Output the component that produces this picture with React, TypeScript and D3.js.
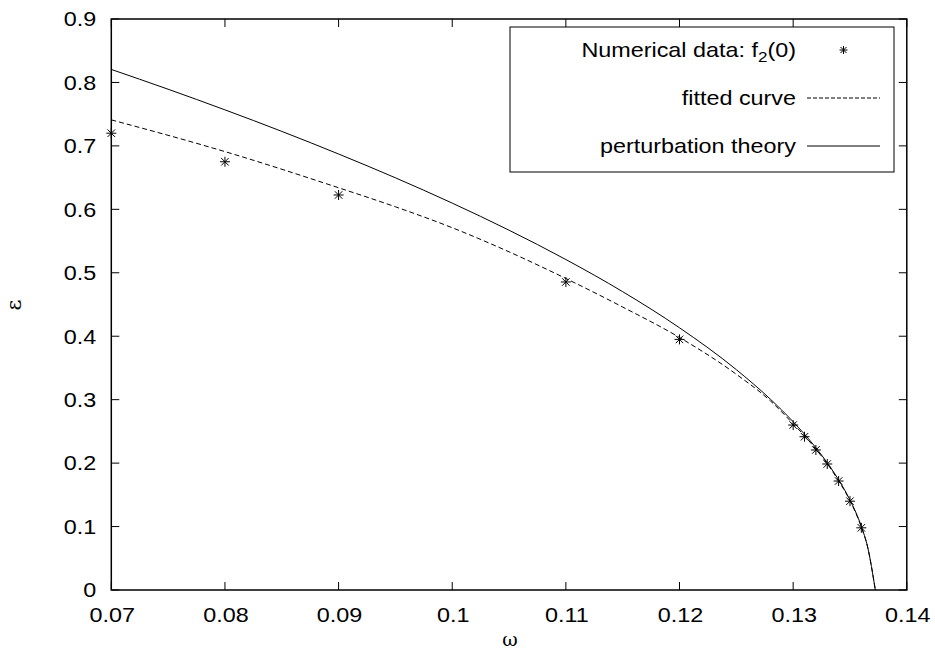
import React from "react";
import * as d3 from "d3";

const W = 935;
const H = 659;

const xTicks = [0.07, 0.08, 0.09, 0.1, 0.11, 0.12, 0.13, 0.14];
const yTicks = [0, 0.1, 0.2, 0.3, 0.4, 0.5, 0.6, 0.7, 0.8, 0.9];

const dataOmega = [0.07, 0.08, 0.09, 0.11, 0.12, 0.13, 0.131, 0.132, 0.133, 0.134, 0.135, 0.136];
const dataEps = [0.72, 0.675, 0.6226, 0.4855, 0.395, 0.26, 0.2416, 0.2207, 0.1986, 0.1718, 0.14, 0.098];

const fitOmega = [0.07, 0.08, 0.09, 0.095, 0.1, 0.105, 0.11, 0.115, 0.12, 0.125, 0.128, 0.13, 0.131, 0.132, 0.133, 0.134, 0.135, 0.136, 0.13655, 0.13723];
const fitEps = [0.741, 0.691, 0.634, 0.604, 0.571, 0.533, 0.491, 0.446, 0.398, 0.34, 0.298, 0.262, 0.243, 0.222, 0.199, 0.172, 0.141, 0.099, 0.068, 0];

const ptOmega = [0.07, 0.075, 0.08, 0.085, 0.09, 0.095, 0.1, 0.105, 0.11, 0.115, 0.12, 0.125, 0.128, 0.13, 0.131, 0.132, 0.133, 0.134, 0.135, 0.136, 0.13655, 0.13723];
const ptEps = [0.8205, 0.7893, 0.7568, 0.7229, 0.6872, 0.6497, 0.6098, 0.5671, 0.5209, 0.4702, 0.4133, 0.3473, 0.3007, 0.2652, 0.2456, 0.2242, 0.2005, 0.1736, 0.1418, 0.1002, 0.068, 0];

const legendLabels = ["Numerical data: f", "fitted curve", "perturbation theory"];

const FONT = "'Liberation Sans', Arial, Helvetica, sans-serif";
const SX = 1.14;

function T(props: { x: number; y: number; anchor: string; children: React.ReactNode; dy?: string }) {
  return (
    <text
      transform={`translate(${props.x},${props.y}) scale(${SX},1)`}
      x={0}
      y={0}
      dy={props.dy}
      textAnchor={props.anchor}
    >
      {props.children}
    </text>
  );
}

export default function App() {
  const left = 111.3;
  const right = 906.8;
  const top = 19;
  const bottom = 590;
  const x = d3.scaleLinear().domain([0.07, 0.14]).range([left, right]);
  const y = d3.scaleLinear().domain([0, 0.9]).range([bottom, top]);

  const line = d3
    .line<[number, number]>()
    .x((d) => x(d[0]))
    .y((d) => y(d[1]))
    .curve(d3.curveMonotoneX);

  const fitPath = line(fitOmega.map((w, i) => [w, fitEps[i]] as [number, number])) || "";
  const ptPath = line(ptOmega.map((w, i) => [w, ptEps[i]] as [number, number])) || "";

  const star = (cx: number, cy: number, r: number, key: string) => (
    <g key={key} stroke="#000" strokeWidth={1}>
      <line x1={cx - r} y1={cy} x2={cx + r} y2={cy} />
      <line x1={cx} y1={cy - r} x2={cx} y2={cy + r} />
      <line x1={cx - r * 0.75} y1={cy - r * 0.75} x2={cx + r * 0.75} y2={cy + r * 0.75} />
      <line x1={cx - r * 0.75} y1={cy + r * 0.75} x2={cx + r * 0.75} y2={cy - r * 0.75} />
    </g>
  );

  const tickLen = 8;
  const fs = 20.5;

  const legX0 = 510;
  const legX1 = 894;
  const legY0 = 27;
  const legY1 = 172;
  const rowY = [50, 98, 146];
  const textRight = 796;
  const sampleX0 = 807;
  const sampleX1 = 880;

  return (
    <div style={{ position: "fixed", left: 0, top: 0 }}>
      <svg width={W} height={H} style={{ display: "block", background: "#fff" }}>
        <rect x={0} y={0} width={W} height={H} fill="#fff" />
        {/* ticks */}
        <g stroke="#000" strokeWidth={1}>
          {yTicks.map((t) => (
            <g key={"yt" + t}>
              <line x1={left} x2={left + tickLen} y1={y(t)} y2={y(t)} />
              <line x1={right} x2={right - tickLen} y1={y(t)} y2={y(t)} />
            </g>
          ))}
          {xTicks.map((t) => (
            <g key={"xt" + t}>
              <line x1={x(t)} x2={x(t)} y1={bottom} y2={bottom - tickLen} />
              <line x1={x(t)} x2={x(t)} y1={top} y2={top + tickLen} />
            </g>
          ))}
        </g>
        {/* tick labels */}
        <g fontFamily={FONT} fontSize={fs} fill="#000">
          {yTicks.map((t) => (
            <T key={"yl" + t} x={left - 15} y={y(t)} dy="0.36em" anchor="end">
              {d3.format("")(t)}
            </T>
          ))}
          {xTicks.map((t) => (
            <T key={"xl" + t} x={x(t) + 1} y={bottom + 32} anchor="middle">
              {d3.format("")(t)}
            </T>
          ))}
        </g>
        {/* axis titles */}
        <text
          x={510}
          y={646}
          textAnchor="middle"
          fontFamily="'DejaVu Serif', 'Liberation Serif', serif"
          fontSize={19}
        >
          ω
        </text>
        <text
          transform={`translate(21,305) rotate(-90)`}
          textAnchor="middle"
          fontFamily="'DejaVu Serif', 'Liberation Serif', serif"
          fontSize={21}
        >
          ε
        </text>
        {/* curves */}
        <path d={ptPath} fill="none" stroke="#000" strokeWidth={1} />
        <path d={fitPath} fill="none" stroke="#000" strokeWidth={1} strokeDasharray="5,3" />
        {dataOmega.map((w, i) => star(x(w), y(dataEps[i]), 5, "p" + i))}
        {/* frame */}
        <rect x={left} y={top} width={right - left} height={bottom - top} fill="none" stroke="#000" strokeWidth={1.5} />
        {/* legend */}
        <rect x={legX0} y={legY0} width={legX1 - legX0} height={legY1 - legY0} fill="#fff" stroke="#000" strokeWidth={1} />
        <g fontFamily={FONT} fontSize={fs} fill="#000">
          <T x={textRight} y={rowY[0]} dy="0.36em" anchor="end">
            {legendLabels[0]}
            <tspan fontSize={15} dy="5">2</tspan>
            <tspan dy="-5">(0)</tspan>
          </T>
          <T x={textRight} y={rowY[1]} dy="0.36em" anchor="end">
            {legendLabels[1]}
          </T>
          <T x={textRight} y={rowY[2]} dy="0.36em" anchor="end">
            {legendLabels[2]}
          </T>
        </g>
        {star((sampleX0 + sampleX1) / 2, rowY[0], 4, "legstar")}
        <line x1={sampleX0} x2={sampleX1} y1={rowY[1]} y2={rowY[1]} stroke="#000" strokeWidth={1} strokeDasharray="4,2" />
        <line x1={sampleX0} x2={sampleX1} y1={rowY[2]} y2={rowY[2]} stroke="#000" strokeWidth={1} />
      </svg>
    </div>
  );
}
